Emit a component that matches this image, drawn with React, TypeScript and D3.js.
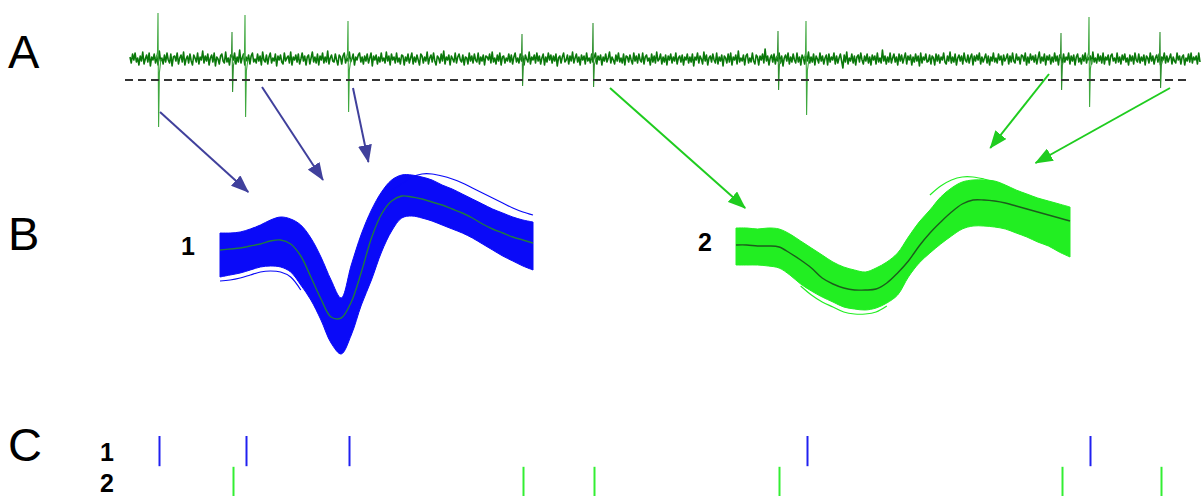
import React from "react";
import * as d3 from "d3";

// ---------- Panel A : raw trace ----------
const noise: number[] = [
  2,-4,5,-1,6,-3,1,-6,3,-2,7,-5,0,4,-3,6,-7,2,-1,5,
  -4,3,-6,8,-2,1,-5,4,-3,6,-1,-4,5,-7,2,3,-2,6,-5,1,
  4,-3,7,-6,0,3,-4,5,-2,-6,4,1,-3,6,-5,2,-1,8,-4,3,
  -2,5,-6,1,4,-3,6,-7,2,0,-5,3,5,-2,-4,7,-3,1,-6,4,
  3,-1,6,-5,2,-3,9,-4,1,5,-6,2,-2,4,-5,3,6,-3,0,-4,
  5,-2,3,-6,7,-1,-3,4,-5,2,6,-4,1,-2,5,-7,3,-1,4,-3,
  -5,6,-2,1,3,-4,7,-6,2,-1,4,-3,5,-5,0,6,-2,3,-6,2,
  4,-5,1,7,-3,2,-4,5,-6,3,-1,6,-4,2,-3,8,-5,1,4,-2,
  -3,5,-1,-6,4,2,-5,3,6,-4,1,-2,7,-3,0,5,-6,2,-1,4,
  6,-3,2,-5,3,-2,5,-4,1,6,-7,3,-1,4,-5,2,-3,6,-2,1,
  -4,7,-2,3,-6,5,-1,2,-4,6,-3,1,-5,4,3,-6,2,-2,5,-4,
  1,6,-5,2,-3,4,-1,-6,5,3,-4,2,-2,7,-5,1,4,-3,6,-2,
  -6,3,1,-4,5,-2,8,-5,2,-1,4,-6,3,0,-3,6,-4,2,5,-1,
  -3,4,-6,2,1,-5,6,-2,3,-4,5,-1,-3,6,-5,2,-2,4,-6,3,
  2,-1,5,-4,7,-3,1,-5,4,-2,6,-6,2,3,-4,1,-2,5,-3,4,
  -5,2,6,-3,1,-4,5,-2,3,-6,4,0,-3,7,-5,2,-1,4,-4,6,
  -2,3,-5,1,5,-6,2,-3,6,-1,4,-4,3,-2,5,-7,1,3,-4,2,
  6,-3,-1,4,-5,3,-2,7,-4,1,5,-3,2,-6,4,-1,3,-5,6,-2,
  1,-4,5,-3,2,6,-5,3,-1,4,-6,2,-2,5,-3,1,7,-4,2,-1,
  -5,4,-2,6,-3,1,-4,5,-6,3,2,-3,4,-1,-5,6,-2,3,-4,5,
  -1,-3,6,-5,2,4,-2,1,-6,5,-3,3,-4,7,-2,0,5,-5,2,-3,
  4,-6,3,-1,5,-4,2,-2,6,-5,1,3,-3,4,-6,2,-1,5,-4,2,
  -3,5,-7,2,-1,6,-4,3,0,-5,7,-2,4,-6,1,3,-3,5,-1,-4,
  6,-5,2,-2,4,-7,3,1,-4,5,-3,6,-6,2,-1,4,-5,8,-3,1,
  -2,4,-6,3,5,-4,1,-3,6,-2,-5,4,2,-6,3,-1,5,-4,10,-2,
  3,-6,1,4,-3,5,-5,2,-2,6,-4,3,-7,1,4,-2,6,-5,2,-3,
  5,-1,-4,6,-3,2,-6,4,1,-5,3,-2,7,-4,2,-3,5,-6,3,0,
  -4,6,-2,3,-5,1,4,-6,5,-3,2,-1,6,-5,3,-4,1,5,-2,-9,
  4,-3,7,-5,1,-2,5,-4,3,-6,2,4,-3,6,-1,-5,3,-2,5,-4,
  2,-6,4,-1,3,-5,6,-3,1,-4,9,-2,3,-5,2,-3,6,-4,1,5,
  -3,2,-6,5,-2,4,-4,1,6,-5,3,-1,4,-6,2,-3,5,-2,3,-7,
  6,-4,2,-1,5,-3,-2,4,-5,3,1,-6,5,-2,4,-4,2,-1,6,-3,
  -5,3,-2,7,-4,2,-3,5,-6,1,4,-2,3,-5,6,-1,-3,4,-4,2,
  5,-6,3,-2,4,-1,6,-5,2,-3,1,5,-4,3,-6,2,-2,6,-3,1,
  -4,5,-1,3,-6,4,-2,1,5,-5,3,-3,6,-2,-4,5,-1,2,-5,4,
  3,-2,6,-6,2,-4,5,-1,3,-3,4,-5,1,7,-4,2,-2,5,-6,3,
  -1,4,-5,2,-3,6,-2,3,-6,4,1,-4,5,-3,2,-1,6,-5,3,-2,
  4,-6,2,5,-3,1,-5,4,-2,6,-4,2,-1,3,-5,7,-3,1,-4,5,
  -2,3,-4,6,-5,2,-1,4,-6,3,5,-2,1,-4,6,-3,2,-5,4,-1,
  5,-3,1,-6,4,-2,3,-5,6,-1,-3,5,-4,2,-2,4,-6,3,1,-4,
  6,-2,3,-5,1,4,-3,5,-6,2,-1,6,-4,3,-3,1,5,-5,2,-2,
  -4,6,-1,3,-5,2,4,-6,1,-2,5,-3,6,-4,2,-1,3,-5,6,-3,
];
const threshold = -21;

// spike times (ms) and peak / trough amplitudes
const unit1Times = [28, 115, 218, 676, 959];
const unit1Up = [46, 44, 38, 38, 42];
const unit1Down = [-68, -58, -53, -56, -48];
const unit2Times = [102, 392, 463, 648, 931, 1030];
const unit2Up = [27, 25, 36, 28, 26, 27];
const unit2Down = [-33, -27, -28, -31, -31, -29];

// ---------- Panel B : waveforms ----------
const unit1Top = [17,17,18,21,25,30,33,31,25,12,-7,-30,-48,-15,16,40,58,70,75,75,73,70,65,61,56,51,46,41,37,33,30,28];
const unit1Mean = [0,1,2,4,6,9,10,6,-6,-27,-49,-67,-68,-52,-22,12,36,49,54,53,51,48,45,41,37,32,26,21,17,13,10,7];
const unit1Bottom = [-27,-25,-23,-20,-17,-16,-17,-22,-35,-50,-70,-93,-104,-85,-55,-30,-2,19,32,34,32,29,25,21,17,12,6,0,-6,-11,-16,-20];
const unit1OutLow = [-31,-30,-28,-25,-22,-21,-22,-27,-40];
const unit1OutHigh = [60,66,73,76,76,74,71,67,62,57,52,47,42,38,35];

const unit2Top = [22,22,21,22,21,16,9,2,-5,-12,-17,-20,-22,-18,-12,-3,13,28,40,53,62,68,70,70,69,65,60,56,52,49,46,43];
const unit2Mean = [5,5,4,4,3,-3,-10,-18,-28,-34,-38,-40,-40,-39,-33,-23,-11,4,17,28,38,46,50,50,49,47,44,41,38,35,32,29];
const unit2Bottom = [-15,-15,-15,-16,-18,-25,-34,-41,-47,-52,-57,-59,-60,-58,-53,-45,-27,-13,-3,6,14,21,24,24,23,21,17,13,8,4,-2,-7];
const unit2OutLow = [-36,-45,-52,-57,-62,-64,-64,-62,-56];
const unit2OutHigh = [55,64,70,73,73,71,68];

// arrows: from trace (time, amplitude) to waveform (sample, amplitude)
const arrows1From = [[30, -53], [132, -28], [223, -29]];
const arrows1To = [[2.8, 58], [10.2, 70], [14.7, 88]];
const arrows2From = [[480, -29], [919, -15], [1040, -29]];
const arrows2To = [[0.85, 42], [23.6, 102], [27.8, 87]];

const panelLabels = ["A", "B", "C"];
const rasterRows = ["1", "2"];

const BLUE = "#0a0af8";
const GREEN = "#22ee22";

export default function App() {
  const W = 1204, H = 496;
  const xA = d3.scaleLinear().domain([0, 1070]).range([130, 1200]);
  const yA = d3.scaleLinear().domain([-70, 50]).range([129, 9]);
  const xN = d3.scaleLinear().domain([0, noise.length - 1]).range([130, 1200]);

  const tracePath = d3.line<number>().x((_, i) => xN(i)).y((v) => yA(v))(noise) || "";

  const spikePath = (t: number, up: number, down: number) =>
    d3.line<[number, number]>().x((d) => xA(d[0])).y((d) => yA(d[1]))([
      [t - 2, 0], [t - 0.5, up * 0.15], [t, up], [t + 0.6, down], [t + 1.4, down * 0.2], [t + 3, 0],
    ]) || "";

  const xB1 = d3.scaleLinear().domain([0, 31]).range([220, 533]);
  const xB2 = d3.scaleLinear().domain([0, 31]).range([736, 1070]);
  const yB = d3.scaleLinear().domain([-110, 90]).range([360, 160]);

  const band = (xs: d3.ScaleLinear<number, number>, top: number[], bot: number[]) =>
    d3.area<number>().x((_, i) => xs(i)).y0((_, i) => yB(bot[i])).y1((_, i) => yB(top[i]))
      .curve(d3.curveCatmullRom)(top) || "";
  const wLine = (xs: d3.ScaleLinear<number, number>, m: number[], start = 0) =>
    d3.line<number>().x((_, i) => xs(i + start)).y((v) => yB(v)).curve(d3.curveCatmullRom)(m) || "";

  const yC = d3.scaleBand<string>().domain(rasterRows).range([436, 497]).paddingInner(0.02);

  const labelY = [68, 250, 461];

  return (
    <svg width={W} height={H} style={{ position: "absolute", left: 0, top: 0, background: "#fff" }}
      fontFamily="'Liberation Sans', Arial, sans-serif">
      <defs>
        <marker id="ahB" viewBox="0 0 18 14" refX="17" refY="7" markerWidth="18" markerHeight="14"
          markerUnits="userSpaceOnUse" orient="auto">
          <path d="M0,0 L18,7 L0,14 Z" fill="#40409c" />
        </marker>
        <marker id="ahG" viewBox="0 0 18 14" refX="17" refY="7" markerWidth="18" markerHeight="14"
          markerUnits="userSpaceOnUse" orient="auto">
          <path d="M0,0 L18,7 L0,14 Z" fill="#1fcc1f" />
        </marker>
      </defs>

      {panelLabels.map((l, i) => (
        <text key={l} x={8} y={labelY[i]} fontSize={47} fill="#000">{l}</text>
      ))}

      {/* Panel A */}
      <path d={tracePath} fill="none" stroke="#0a780a" strokeWidth={1.6} strokeLinejoin="round" />
      {unit1Times.map((t, i) => (
        <path key={"s1" + i} d={spikePath(t, unit1Up[i], unit1Down[i])} fill="none" stroke="#3fa83f" strokeWidth={1.1} />
      ))}
      {unit2Times.map((t, i) => (
        <path key={"s2" + i} d={spikePath(t, unit2Up[i], unit2Down[i])} fill="none" stroke="#2e902e" strokeWidth={1.1} />
      ))}
      <line x1={xA(-5)} x2={xA(1057)} y1={yA(threshold)} y2={yA(threshold)}
        stroke="#333" strokeWidth={2} strokeDasharray="8,5" />

      {/* Arrows */}
      {arrows1From.map((f, i) => (
        <line key={"a1" + i} x1={xA(f[0])} y1={yA(f[1])} x2={xB1(arrows1To[i][0])} y2={yB(arrows1To[i][1])}
          stroke="#40409c" strokeWidth={2} markerEnd="url(#ahB)" />
      ))}
      {arrows2From.map((f, i) => (
        <line key={"a2" + i} x1={xA(f[0])} y1={yA(f[1])} x2={xB2(arrows2To[i][0])} y2={yB(arrows2To[i][1])}
          stroke="#1fcc1f" strokeWidth={2} markerEnd="url(#ahG)" />
      ))}

      {/* Panel B */}
      <path d={band(xB1, unit1Top, unit1Bottom)} fill={BLUE} stroke={BLUE} strokeWidth={1} />
      <path d={wLine(xB1, unit1OutLow, 0)} fill="none" stroke={BLUE} strokeWidth={1.2} />
      <path d={wLine(xB1, unit1OutHigh, 17)} fill="none" stroke={BLUE} strokeWidth={1.2} />
      <path d={wLine(xB1, unit1Mean)} fill="none" stroke="#207a40" strokeWidth={1.4} />
      <text x={195} y={255} fontSize={25} fontWeight="bold" textAnchor="end">1</text>

      <path d={band(xB2, unit2Top, unit2Bottom)} fill={GREEN} stroke={GREEN} strokeWidth={1} />
      <path d={wLine(xB2, unit2OutLow, 6)} fill="none" stroke={GREEN} strokeWidth={1.2} />
      <path d={wLine(xB2, unit2OutHigh, 18)} fill="none" stroke={GREEN} strokeWidth={1.2} />
      <path d={wLine(xB2, unit2Mean)} fill="none" stroke="#1c5c1c" strokeWidth={1.4} />
      <text x={712} y={251} fontSize={25} fontWeight="bold" textAnchor="end">2</text>

      {/* Panel C */}
      {rasterRows.map((r) => (
        <text key={"r" + r} x={114} y={(yC(r) || 0) + yC.bandwidth() - 5} fontSize={25} fontWeight="bold" textAnchor="end">{r}</text>
      ))}
      {unit1Times.map((t, i) => (
        <line key={"c1" + i} x1={xA(t) + 1.5} x2={xA(t) + 1.5} y1={yC("1") || 0} y2={(yC("1") || 0) + yC.bandwidth()}
          stroke="#2020f0" strokeWidth={2} />
      ))}
      {unit2Times.map((t, i) => (
        <line key={"c2" + i} x1={xA(t) + 1.5} x2={xA(t) + 1.5} y1={yC("2") || 0} y2={(yC("2") || 0) + yC.bandwidth()}
          stroke="#33ee33" strokeWidth={2} />
      ))}
    </svg>
  );
}
